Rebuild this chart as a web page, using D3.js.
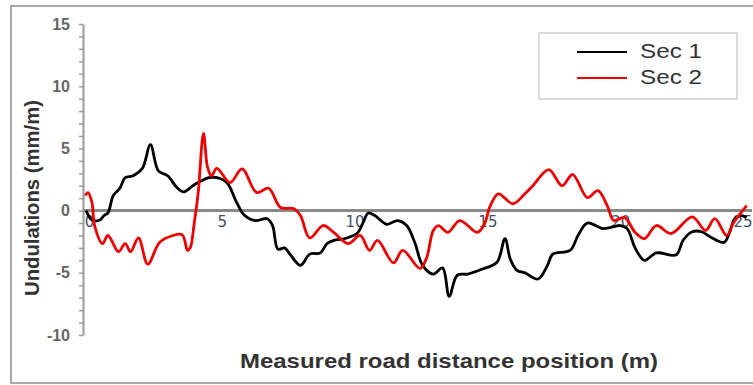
<!DOCTYPE html>
<html>
<head>
<meta charset="utf-8">
<script src="https://cdn.jsdelivr.net/npm/d3@7"></script>
<style>
  body { margin: 0; background: #fff; }
  svg { display: block; }
</style>
</head>
<body>
<svg class="chart" width="753" height="385"></svg>
<script>
const sec1X = [0.08, 0.3, 0.6, 0.75, 0.9, 1.1, 1.35, 1.55, 1.85, 2.2, 2.5, 2.8, 3.15, 3.5, 3.75, 4.1, 4.3, 4.7, 5.1, 5.4,
  5.75, 6.05, 6.45, 6.9, 7.1, 7.3, 7.55, 7.75, 8.15, 8.5, 8.9, 9.15, 9.4, 9.9, 10.3, 10.5, 10.7, 10.95, 11.4, 11.8,
  12.15, 12.45, 12.75, 13.15, 13.5, 13.75, 14.05, 14.45, 15.0, 15.55, 15.85, 16.05, 16.3, 16.6, 17.1, 17.45, 17.65, 18.3, 18.6, 18.95,
  19.55, 20.2, 20.45, 20.75, 21.1, 21.55, 22.3, 22.55, 22.9, 23.25, 23.65, 24.1, 24.3, 24.5, 24.75, 24.95];
const sec1Y = [0, -0.75, -0.75, -0.4, -0.2, 1.2, 1.8, 2.65, 2.8, 3.4, 5.3, 3.2, 2.8, 1.85, 1.5, 2.0, 2.25, 2.65, 2.6, 2.2,
  0.65, -0.4, -0.8, -0.65, -1.2, -3.1, -3.0, -3.5, -4.4, -3.5, -3.4, -2.65, -2.4, -2.2, -1.8, -1.0, -0.2, -0.4, -1.1, -0.8,
  -1.2, -2.55, -4.4, -5.1, -4.6, -6.9, -5.2, -5.1, -4.7, -4.15, -2.25, -3.9, -4.8, -5.0, -5.5, -4.4, -3.5, -3.2, -2.0, -1.0,
  -1.45, -1.2, -1.45, -3.0, -4.0, -3.4, -3.55, -2.4, -1.7, -1.7, -2.2, -2.55, -1.8, -0.65, -0.4, -0.55];

const sec2X = [0.05, 0.15, 0.3, 0.4, 0.7, 0.9, 1.3, 1.55, 1.75, 2.05, 2.4, 2.85, 3.35, 3.7, 3.9, 4.0, 4.15, 4.3, 4.5, 4.65,
  4.8, 5.0, 5.5, 5.95, 6.5, 6.95, 7.4, 7.9, 8.15, 8.5, 9.0, 9.4, 9.95, 10.4, 10.75, 11.05, 11.65, 12.0, 12.65, 12.9,
  13.15, 13.35, 13.7, 14.15, 14.8, 15.05, 15.3, 15.6, 16.15, 16.6, 16.9, 17.5, 18.0, 18.4, 18.95, 19.35, 19.7, 19.95, 20.35, 20.75,
  21.1, 21.55, 22.1, 22.9, 23.4, 23.75, 24.2, 24.45, 24.95];
const sec2Y = [1.2, 1.45, 0.65, -1.2, -2.65, -2.0, -3.3, -2.65, -3.3, -2.2, -4.3, -2.55, -2.0, -1.95, -3.2, -3.0, -1.0, 1.45, 6.2, 3.5,
  2.8, 3.4, 2.25, 3.35, 1.45, 1.8, 0.25, 0.15, -0.4, -2.2, -1.2, -1.75, -2.65, -2.0, -3.2, -2.4, -4.2, -3.2, -4.65, -3.8,
  -1.6, -1.2, -1.75, -0.8, -1.75, -1.2, 0.4, 1.35, 0.55, 1.35, 2.0, 3.3, 2.0, 2.9, 1.05, 1.6, 0.4, -0.8, -0.55, -1.75,
  -2.25, -1.2, -1.85, -0.5, -1.6, -0.65, -2.0, -1.0, 0.4];

const seriesNames = ['Sec 1', 'Sec 2'];
const seriesColors = ['#000000', '#ee0000'];
const xTickValues = [0, 5, 10, 15, 20, 25];
const yTickValues = [-10, -5, 0, 5, 10, 15];

const svg = d3.select('.chart');

// outer frame
svg.append('rect')
  .attr('x', 11).attr('y', 6)
  .attr('width', 760).attr('height', 377)
  .attr('fill', 'none')
  .attr('stroke', '#a8a8a8')
  .attr('stroke-width', 2);

const xScale = d3.scaleLinear().domain([0, 25]).range([84, 748]);
const yScale = d3.scaleLinear().domain([-10, 15]).range([335, 24]);

// y axis with a tick every unit, labels every 5
const yAxis = d3.axisLeft(yScale)
  .tickValues(d3.range(-10, 16))
  .tickSize(4)
  .tickSizeOuter(0)
  .tickFormat(d => (yTickValues.includes(d) ? d : ''));

const yG = svg.append('g')
  .attr('transform', 'translate(83,0)')
  .call(yAxis);
yG.select('.domain').attr('stroke', '#999').attr('stroke-width', 2);
yG.selectAll('.tick line').attr('stroke', '#999').attr('stroke-width', 1.5);
yG.selectAll('.tick text')
  .attr('x', -13)
  .attr('font-family', 'Liberation Sans, Arial, sans-serif')
  .attr('font-size', 16)
  .attr('font-weight', 'bold')
  .attr('fill', '#666');

// x axis sits on the zero line
const xAxis = d3.axisBottom(xScale)
  .tickValues(xTickValues)
  .tickSize(0)
  .tickSizeOuter(0);

const xG = svg.append('g')
  .attr('transform', `translate(0,${yScale(0)})`)
  .call(xAxis);
xG.select('.domain').attr('d', `M83,0H752`).attr('stroke', '#8a8a8a').attr('stroke-width', 3);
xG.selectAll('.tick text')
  .attr('x', 5)
  .attr('y', 6)
  .attr('font-family', 'DejaVu Sans, sans-serif')
  .attr('font-size', 15)
  .attr('fill', '#3f4f66');
// last label would run off the edge: pin its right side to the frame
xG.selectAll('.tick text')
  .filter(d => d === 25)
  .attr('text-anchor', 'end')
  .attr('x', 4);

// series
const line = d3.line()
  .x(d => xScale(d[0]))
  .y(d => yScale(d[1]))
  .curve(d3.curveCatmullRom.alpha(0.5));

const series = [
  d3.zip(sec1X, sec1Y),
  d3.zip(sec2X, sec2Y),
];

svg.selectAll('path.series')
  .data(series)
  .enter()
  .append('path')
  .attr('class', 'series')
  .attr('d', line)
  .attr('fill', 'none')
  .attr('stroke', (d, i) => seriesColors[i])
  .attr('stroke-width', 2.8)
  .attr('stroke-linejoin', 'round');

// axis titles
svg.append('text')
  .attr('transform', 'translate(39,198) rotate(-90)')
  .attr('text-anchor', 'middle')
  .attr('font-family', 'Liberation Sans, Arial, sans-serif')
  .attr('font-size', 21)
  .attr('font-weight', 'bold')
  .attr('fill', '#333')
  .attr('textLength', 196)
  .attr('lengthAdjust', 'spacingAndGlyphs')
  .text('Undulations (mm/m)');

svg.append('text')
  .attr('x', 449).attr('y', 368)
  .attr('text-anchor', 'middle')
  .attr('font-family', 'Liberation Sans, Arial, sans-serif')
  .attr('font-size', 21)
  .attr('font-weight', 'bold')
  .attr('fill', '#333')
  .attr('textLength', 418)
  .attr('lengthAdjust', 'spacingAndGlyphs')
  .text('Measured road distance position (m)');

// legend
const legend = svg.append('g');
legend.append('rect')
  .attr('x', 539).attr('y', 33)
  .attr('width', 198).attr('height', 66)
  .attr('fill', '#fff')
  .attr('stroke', '#cfcfcf')
  .attr('stroke-width', 1.5);

const items = legend.selectAll('g.item')
  .data(seriesNames)
  .enter()
  .append('g')
  .attr('class', 'item')
  .attr('transform', (d, i) => `translate(0,${52 + i * 26})`);

items.append('line')
  .attr('x1', 577).attr('x2', 627)
  .attr('stroke', (d, i) => seriesColors[i])
  .attr('stroke-width', 2.2);

items.append('text')
  .attr('x', 640).attr('y', 6)
  .attr('font-family', 'Liberation Sans, Arial, sans-serif')
  .attr('font-size', 20)
  .attr('fill', '#333')
  .attr('textLength', 62)
  .attr('lengthAdjust', 'spacingAndGlyphs')
  .text(d => d);
</script>
</body>
</html>
